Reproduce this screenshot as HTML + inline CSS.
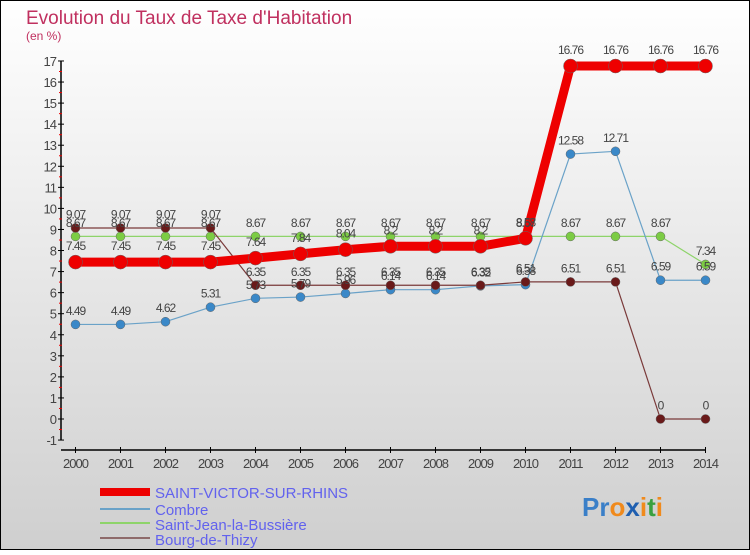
<!DOCTYPE html>
<html><head><meta charset="utf-8"><style>
html,body{margin:0;padding:0}
body{width:750px;height:550px;overflow:hidden;font-family:"Liberation Sans",sans-serif}
svg text{font-family:"Liberation Sans",sans-serif}
</style></head><body>
<svg id="chart" width="750" height="550" xmlns="http://www.w3.org/2000/svg">
<defs><linearGradient id="bg" x1="0" y1="0" x2="0" y2="1"><stop offset="0" stop-color="#ffffff"/><stop offset="1" stop-color="#cfcfcf"/></linearGradient></defs>
<rect x="0.5" y="0.5" width="749" height="549" fill="url(#bg)" stroke="#000"/>
<text x="26" y="24" font-size="19" fill="#c0305f">Evolution du Taux de Taxe d'Habitation</text>
<text x="26" y="40" font-size="12" fill="#c0305f">(en %)</text>
<g id="axes"></g>
<g id="series"></g>
<g id="labels"></g>
<g>
<rect x="100" y="488" width="50" height="8" fill="#ee0000"/>
<text x="155" y="498" font-size="15" fill="#6262ee">SAINT-VICTOR-SUR-RHINS</text>
<rect x="100" y="508" width="50" height="2" fill="#6aa2c8"/>
<text x="155" y="515" font-size="15" fill="#6262ee">Combre</text>
<rect x="100" y="522" width="50" height="2" fill="#8ed46a"/>
<text x="155" y="530" font-size="15" fill="#6262ee">Saint-Jean-la-Bussière</text>
<rect x="100" y="537" width="50" height="2" fill="#8e6a6a"/>
<text x="155" y="545" font-size="15" fill="#6262ee">Bourg-de-Thizy</text>
</g>
<text x="582" y="516" font-size="26" font-weight="bold"><tspan fill="#3a7fc8">Pr</tspan><tspan fill="#f08a1c">o</tspan><tspan fill="#1f5fb0">x</tspan><tspan fill="#f08a1c">i</tspan><tspan fill="#3aa040">t</tspan><tspan fill="#f08a1c">i</tspan></text>
</svg>
<script>
const years = [2000,2001,2002,2003,2004,2005,2006,2007,2008,2009,2010,2011,2012,2013,2014];
const yTicks = [-1,0,1,2,3,4,5,6,7,8,9,10,11,12,13,14,15,16,17];
const stVictor = [7.45,7.45,7.45,7.45,7.64,7.84,8.04,8.2,8.2,8.2,8.58,16.76,16.76,16.76,16.76];
const combre = [4.49,4.49,4.62,5.31,5.73,5.79,5.96,6.14,6.14,6.32,6.38,12.58,12.71,6.59,6.59];
const stJean = [8.67,8.67,8.67,8.67,8.67,8.67,8.67,8.67,8.67,8.67,8.67,8.67,8.67,8.67,7.34];
const bourg = [9.07,9.07,9.07,9.07,6.35,6.35,6.35,6.35,6.35,6.35,6.51,6.51,6.51,0,0];

const NS='http://www.w3.org/2000/svg';
function xS(i){return 75.5+i*45;}
function yS(v){return 419-v*21.06;}
function mk(tag,attrs,parent){const e=document.createElementNS(NS,tag);for(const k in attrs)e.setAttribute(k,attrs[k]);parent.appendChild(e);return e;}
const axes=document.getElementById('axes'), ser=document.getElementById('series'), lab=document.getElementById('labels');
let e=mk('line',{x1:61,y1:yS(17),x2:61,y2:yS(-1),stroke:'#000','stroke-width':1.5},axes);


e=mk('line',{x1:61,y1:450,x2:xS(14),y2:450,stroke:'#000','stroke-width':1.5},axes);


yTicks.forEach(t=>{
  mk('line',{x1:58,y1:yS(t),x2:64,y2:yS(t),stroke:'#000'},axes);
  if(t<17) mk('line',{x1:59,y1:yS(t+0.5),x2:62,y2:yS(t+0.5),stroke:'#e00'},axes);
  const tx=mk('text',{x:56,y:yS(t)+5,'font-size':13,'text-anchor':'end',fill:'#444','letter-spacing':'-1'},axes);
  tx.textContent=t;
  
  
});
years.forEach((y,i)=>{
  mk('line',{x1:xS(i),y1:447,x2:xS(i),y2:453,stroke:'#000'},axes);
  const tx=mk('text',{x:xS(i),y:468,'font-size':13,'text-anchor':'middle',fill:'#444','letter-spacing':'-1'},axes);
  tx.textContent=y;
  
  
});
function draw(vals,color,dot,lw,r,name){
  const g=mk('g',{},ser);
  
  
  const p=mk('polyline',{points:vals.map((v,i)=>xS(i)+','+yS(v)).join(' '),fill:'none',stroke:color,'stroke-width':lw,'stroke-linejoin':'round'},g);
  
  
  vals.forEach((v,i)=>{
    const c=mk('circle',{cx:xS(i),cy:yS(v),r:r,fill:dot,stroke:'#666','stroke-width':0.5},g);
    
    
    const t=mk('text',{x:xS(i),y:yS(v)-(r+5),'font-size':12,'text-anchor':'middle',fill:'#444','letter-spacing':'-1'},lab);
    t.textContent=String(v);
    
    
  });
}
draw(stJean,'#8ed46a','#7ccc44',1.2,4.5,'saint-jean');
draw(combre,'#6aa2c8','#3a88c8',1.2,4.5,'combre');
draw(bourg,'#7a3a3a','#6a1a1a',1.2,4.5,'bourg');
draw(stVictor,'#ee0000','#ee0000',9,7,'saint-victor');
</script>
</body></html>
